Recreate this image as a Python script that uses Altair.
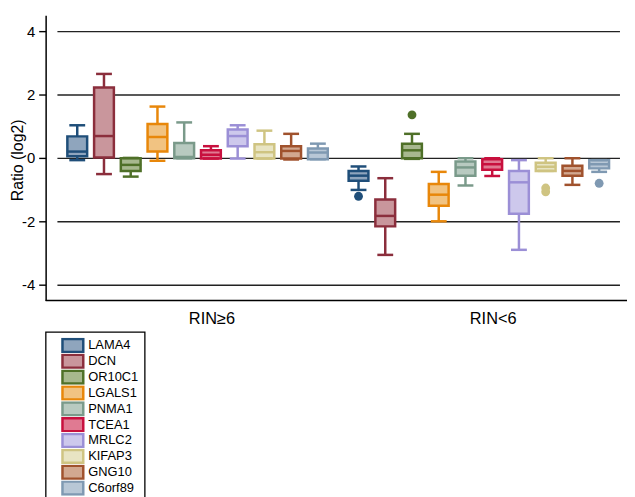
import altair as alt
import pandas as pd

genes = ["LAMA4", "DCN", "OR10C1", "LGALS1", "PNMA1", "TCEA1", "MRLC2", "KIFAP3", "GNG10", "C6orf89"]
strokes = ["#1f4e79", "#8b2e3c", "#4f7028", "#e8870a", "#7a9a8a", "#c8103e", "#9b8fd6", "#cfc482", "#a0522d", "#7f99b2"]
fills = ["#8fa5bd", "#c9969c", "#a7b88e", "#f1c382", "#b8cac0", "#e07a92", "#cdc8ec", "#e8e4c3", "#d2a890", "#b8c7d6"]
groups = ["RIN≥6", "RIN<6"]

# RIN>=6
hi_lw  = [-0.07, -0.51, -0.59, -0.09, -0.01, -0.02, -0.02, -0.02, -0.05, -0.04]
hi_q1  = [0.05, 0.01, -0.41, 0.20, -0.01, -0.02, 0.37, -0.02, -0.02, -0.04]
hi_med = [0.20, 0.69, -0.22, 0.66, 0.03, 0.10, 0.69, 0.18, 0.22, 0.17]
hi_q3  = [0.68, 2.22, -0.01, 1.07, 0.47, 0.24, 0.90, 0.43, 0.37, 0.30]
hi_uw  = [1.03, 2.65, 0.00, 1.62, 1.12, 0.37, 1.03, 0.86, 0.76, 0.45]
# RIN<6
lo_lw  = [-1.01, -3.06, -0.03, -2.00, -0.87, -0.57, -2.90, -0.41, -0.85, -0.44]
lo_q1  = [-0.72, -2.16, -0.01, -1.51, -0.56, -0.37, -1.76, -0.41, -0.56, -0.33]
lo_med = [-0.56, -1.83, 0.24, -1.16, -0.30, -0.20, -0.77, -0.28, -0.41, -0.20]
lo_q3  = [-0.41, -1.31, 0.45, -0.82, -0.11, -0.04, -0.41, -0.15, -0.25, -0.07]
lo_uw  = [-0.27, -0.64, 0.76, -0.44, -0.01, -0.01, -0.07, -0.01, -0.01, -0.07]

out_gene  = ["LAMA4", "OR10C1", "KIFAP3", "KIFAP3", "C6orf89"]
out_group = ["RIN<6", "RIN<6", "RIN<6", "RIN<6", "RIN<6"]
out_value = [-1.21, 1.36, -0.95, -1.07, -0.80]

y_ticks = [-4, -2, 0, 2, 4]
y_bottom = [-4.5]

rows = []
for grp, lw, q1, md, q3, uw in [(groups[0], hi_lw, hi_q1, hi_med, hi_q3, hi_uw),
                                (groups[1], lo_lw, lo_q1, lo_med, lo_q3, lo_uw)]:
    for i, g in enumerate(genes):
        rows.append(dict(group=grp, gene=g, lw=lw[i], q1=q1[i], med=md[i], q3=q3[i], uw=uw[i]))
df = pd.DataFrame(rows)
dfo = pd.DataFrame(dict(group=out_group, gene=out_gene, value=out_value))
dfb = pd.DataFrame(dict(y=y_bottom))

FONT = "Liberation Sans"
SW = 2.5
W, H = 587, 288

x = alt.X("group:N", sort=groups,
          scale=alt.Scale(range=[11.4, 579.4], paddingInner=0, paddingOuter=0),
          axis=alt.Axis(title=None, ticks=False, labelAngle=0, labelFontSize=16.5,
                        labelPadding=10, labelOffset=14.5, domain=False,
                        labelColor="black", labelFont=FONT, grid=False))
xo = alt.XOffset("gene:N", sort=genes, scale=alt.Scale(paddingInner=0.26, paddingOuter=0.39))
yscale = alt.Scale(domain=[-4.5, 4.5], nice=False)
yaxis = alt.Axis(title="Ratio (log2)", values=y_ticks, grid=True, gridColor="#222",
                 gridWidth=1.4, tickColor="black", tickSize=7, tickWidth=1.4, domainColor="black",
                 domainWidth=1.5, labelFontSize=15, labelColor="black", labelFont=FONT,
                 labelExpr="datum.value < 0 ? '-' + abs(datum.value) : '' + datum.value",
                 titleFont=FONT, titleFontSize=16, titleFontWeight="normal", titleColor="black",
                 labelPadding=4, titleX=-23, titleY=146, titleBaseline="alphabetic",
                 titleAlign="center", titleAngle=270)

stroke_enc = alt.Stroke("gene:N", sort=genes, scale=alt.Scale(domain=genes, range=strokes),
                        legend=alt.Legend(title=None))
fill_enc = alt.Fill("gene:N", sort=genes, scale=alt.Scale(domain=genes, range=fills),
                    legend=alt.Legend(title=None))
color_enc = alt.Color("gene:N", sort=genes, scale=alt.Scale(domain=genes, range=strokes), legend=None)

base = alt.Chart(df)
whisk = base.mark_rule(strokeWidth=SW).encode(
    x=x, xOffset=xo, y=alt.Y("lw:Q", scale=yscale, axis=yaxis), y2="uw:Q", stroke=stroke_enc)
box = base.mark_bar(strokeWidth=SW, fillOpacity=1).encode(
    x=x, xOffset=xo, y=alt.Y("q1:Q", scale=yscale), y2="q3:Q", fill=fill_enc, stroke=stroke_enc)
med = base.mark_tick(thickness=SW, size=21, opacity=1).encode(
    x=x, xOffset=xo, y=alt.Y("med:Q", scale=yscale), color=color_enc)
cap_lo = base.mark_tick(thickness=SW, size=16, opacity=1).encode(
    x=x, xOffset=xo, y=alt.Y("lw:Q", scale=yscale), color=color_enc)
cap_hi = base.mark_tick(thickness=SW, size=16, opacity=1).encode(
    x=x, xOffset=xo, y=alt.Y("uw:Q", scale=yscale), color=color_enc)
pts = alt.Chart(dfo).mark_circle(size=80, opacity=1).encode(
    x=x, xOffset=xo, y=alt.Y("value:Q", scale=yscale), color=color_enc)
bottom = alt.Chart(dfb).mark_rule(color="black", strokeWidth=1.5).encode(
    y=alt.Y("y:Q", scale=yscale))

chart = alt.layer(whisk, box, med, cap_lo, cap_hi, pts, bottom).properties(
    width=W, height=H,
    autosize=alt.AutoSizeParams(type="none"),
    padding={"left": 38, "top": 5, "right": 0, "bottom": 196}
).configure_view(stroke=None).configure_legend(
    orient="none", legendX=0, legendY=319.7, strokeColor="black", strokeWidth=1.3,
    padding=6, symbolType="M-2.1,-1.3H2.1V1.3H-2.1Z", symbolSize=100, symbolStrokeWidth=SW,
    symbolOffset=15, labelFontSize=13, labelFont=FONT, labelColor="black", rowPadding=0,
    clipHeight=15.3, labelOffset=9, symbolOpacity=1, fillColor="white"
)
chart.save("out.html", embed_options={"renderer": "svg", "actions": False})
